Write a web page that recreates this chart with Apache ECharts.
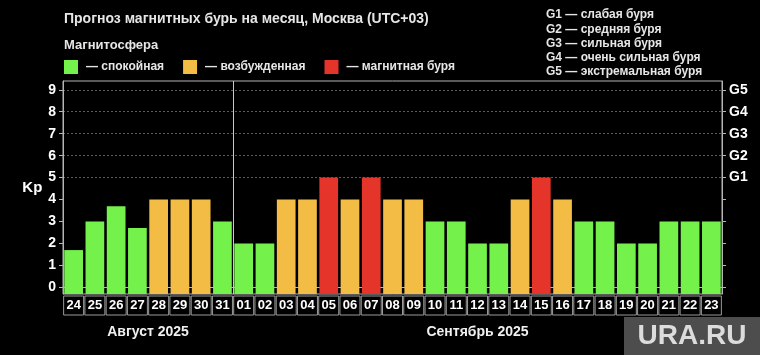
<!DOCTYPE html>
<html><head><meta charset="utf-8">
<script src="https://cdn.jsdelivr.net/npm/echarts@6/dist/echarts.min.js"></script>
<style>html,body{margin:0;padding:0;background:#000}#c{width:760px;height:355px}</style>
</head><body><div id="c"></div>
<script>
const days = ['24','25','26','27','28','29','30','31','01','02','03','04','05','06','07','08','09','10','11','12','13','14','15','16','17','18','19','20','21','22','23'];
const kp   = [1.7,3,3.7,2.7,4,4,4,3,2,2,4,4,5,4,5,4,4,3,3,2,2,4,5,4,3,3,2,2,3,3,3];
// 0 = calm, 1 = excited, 2 = storm
const level = [0,0,0,0,1,1,1,0,0,0,1,1,2,1,2,1,1,0,0,0,0,1,2,1,0,0,0,0,0,0,0];
const levelNames = ['— спокойная','— возбужденная','— магнитная буря'];
const levelColors = ['#74f24b','#f3bd45','#e5352a'];
const kpTicks = [0,1,2,3,4,5,6,7,8,9];
const gLevels = [5,6,7,8,9];
const gLabels = ['G1','G2','G3','G4','G5'];
const gLegend = ['G1 — слабая буря','G2 — средняя буря','G3 — сильная буря','G4 — очень сильная буря','G5 — экстремальная буря'];
const months = [{name:'Август 2025', from:0, to:7},{name:'Сентябрь 2025', from:8, to:30}];
const monthBreak = [7]; // last day of August (index)
const Y_MIN = -0.3, Y_MAX = 9.4;
const FONT = '"Liberation Sans", Arial, sans-serif';

const chart = echarts.init(document.getElementById('c'));

function renderBar(params, api){
  const x = api.value(0), y = api.value(1);
  const top = api.coord([x, y]);
  const base = api.coord([x, Y_MIN]);
  const w = api.size([1,0])[0]*0.88;
  return {type:'rect', shape:{x: top[0]-w/2, y: top[1], width: w, height: base[1]-top[1]}, style:{fill: api.visual('color')}};
}
function renderBreak(params, api){
  const x = api.value(0);
  const top = api.coord([x, Y_MAX]);
  const base = api.coord([x, Y_MIN]);
  const xr = Math.round(top[0] + api.size([1,0])[0]/2) + 0.5;
  return {type:'line', shape:{x1:xr, y1:top[1], x2:xr, y2:base[1]}, style:{stroke:'#c8c8c8', lineWidth:1}};
}

const series = levelNames.map((name, k) => ({
  type:'custom', name, renderItem: renderBar, xAxisIndex:0, yAxisIndex:0,
  itemStyle:{color: levelColors[k]},
  encode:{x:0, y:1},
  data: kp.map((v,i)=> [i, v, level[i]]).filter(d => d[2]===k)
}));
series.push({type:'custom', name:'break', renderItem: renderBreak, xAxisIndex:0, yAxisIndex:0,
  encode:{x:0}, silent:true, z:5, data: monthBreak.map(i => [i])});

const axisCommon = {type:'value', min:Y_MIN, max:Y_MAX};
chart.setOption({
  backgroundColor:'#000',
  animation:false,
  textStyle:{fontFamily:FONT},
  title:[
    {text:'Прогноз магнитных бурь на месяц, Москва (UTC+03)', left:64, top:12, padding:0,
     textStyle:{color:'#e6e6e6', fontSize:14, fontWeight:'bold', fontFamily:FONT}},
    {text:'Магнитосфера', left:64, top:39, padding:0,
     textStyle:{color:'#e6e6e6', fontSize:13, fontWeight:'bold', fontFamily:FONT}},
    {text:gLegend.join('\n'), left:546, top:8, padding:0,
     textStyle:{color:'#e6e6e6', fontSize:12, fontWeight:'bold', lineHeight:14.25, fontFamily:FONT}}
  ],
  legend:{
    data: levelNames, left:64, top:60, padding:0, itemWidth:14, itemHeight:14, itemGap:19, icon:'rect',
    selectedMode:false,
    textStyle:{color:'#e6e6e6', fontSize:12, fontWeight:'bold', fontFamily:FONT, padding:[0,0,0,3]}
  },
  grid:{left:63, right:38, top:81, bottom:61, show:true, borderColor:'#b5b5b5', borderWidth:1, containLabel:false},
  xAxis:{
    type:'category', data:days, boundaryGap:true,
    axisLine:{show:true, lineStyle:{color:'#b5b5b5', width:1}},
    axisTick:{show:false},
    splitLine:{show:false},
    axisLabel:{interval:0, color:'#fff', fontSize:13, fontWeight:'bold', fontFamily:FONT,
      borderColor:'#9a9a9a', borderWidth:1, width:20, height:19, lineHeight:19, align:'center', padding:0, margin:2}
  },
  yAxis:[
    Object.assign({}, axisCommon, {
      position:'left', name:'Kp', nameLocation:'middle', nameGap:17, nameRotate:0,
      nameTextStyle:{color:'#fff', fontSize:15, fontWeight:'bold', fontFamily:FONT, padding:[2,0,0,0]},
      axisLine:{show:true, lineStyle:{color:'#b5b5b5'}},
      axisTick:{show:true, length:4, customValues:kpTicks, lineStyle:{color:'#b5b5b5'}},
      axisLabel:{customValues:kpTicks, color:'#fff', fontSize:14, fontWeight:'bold', margin:7, fontFamily:FONT},
      splitLine:{show:false}
    }),
    Object.assign({}, axisCommon, {
      position:'right',
      axisLine:{show:true, lineStyle:{color:'#b5b5b5'}},
      axisTick:{show:true, length:4, customValues:kpTicks, lineStyle:{color:'#b5b5b5'}},
      axisLabel:{customValues:gLevels, color:'#fff', fontSize:14, fontWeight:'bold', margin:7, fontFamily:FONT,
        formatter:(v)=> gLabels[gLevels.indexOf(Math.round(v))] || ''},
      splitLine:{show:false}
    }),
    Object.assign({}, axisCommon, {
      position:'left', axisLine:{show:false},
      axisTick:{show:false, customValues:gLevels},
      axisLabel:{show:false, customValues:gLevels},
      splitLine:{show:true, lineStyle:{color:'#5a5a5a', type:[2,2], width:1}}
    })
  ],
  series
});

// month labels centred under their day groups, and watermark
const gfx = months.map(m => {
  const a = chart.convertToPixel({xAxisIndex:0}, m.from);
  const b = chart.convertToPixel({xAxisIndex:0}, m.to);
  return {type:'text', x:(a+b)/2, y:332,
    style:{text:m.name, fill:'#f0f0f0', font:'bold 14px '+FONT, align:'center', verticalAlign:'middle'}};
});
gfx.push({type:'rect', shape:{x:624, y:317, width:136, height:38}, style:{fill:'#4d4d4d'}});
gfx.push({type:'text', x:692, y:336, style:{text:'URA.RU', fill:'#dcdcdc', font:'bold 28px '+FONT, align:'center', verticalAlign:'middle'}});
chart.setOption({graphic: gfx});
</script></body></html>
